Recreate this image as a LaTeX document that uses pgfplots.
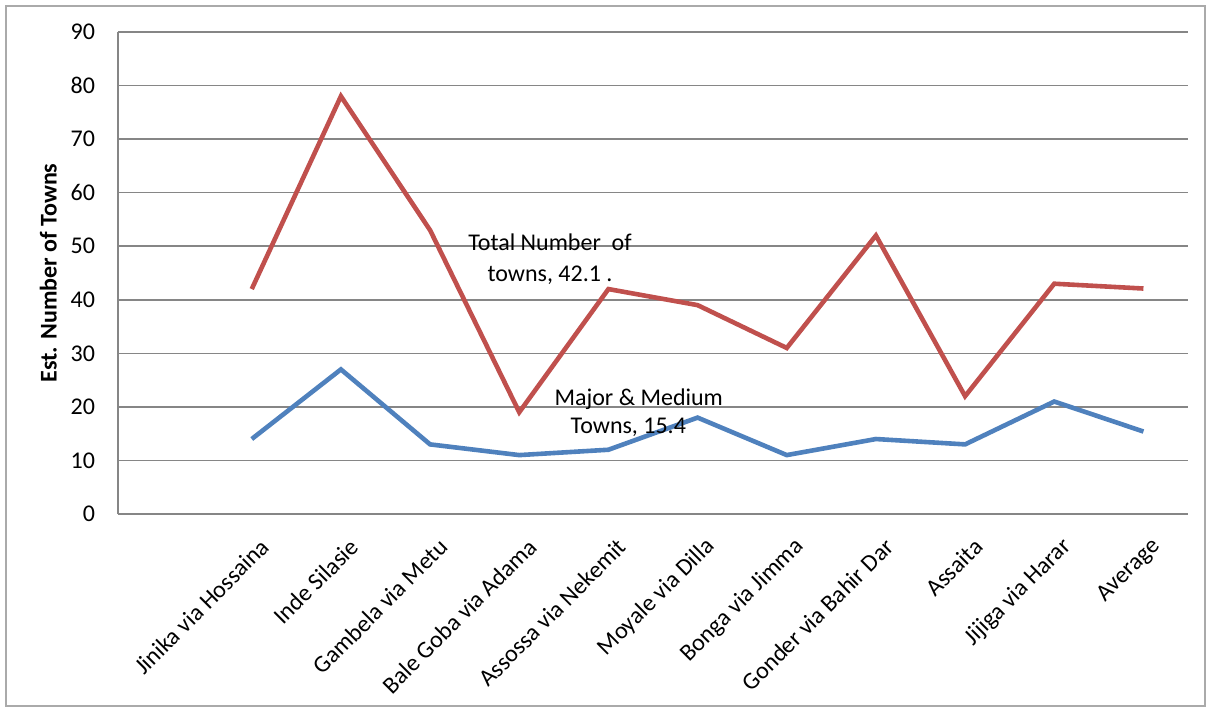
\documentclass[border=0pt]{standalone}
\usepackage{fontspec}
\setmainfont{Carlito}
\usepackage{pgfplots}
\pgfplotsset{compat=1.18}

\definecolor{xlred}{RGB}{192,80,77}
\definecolor{xlblue}{RGB}{79,129,189}
\definecolor{gridgray}{RGB}{134,134,134}
\definecolor{framegray}{RGB}{170,170,170}

\begin{document}
\begin{tikzpicture}
  \useasboundingbox (0,0) rectangle (604.5pt,354pt);
  \draw[framegray, line width=0.8pt] (3pt,1pt) rectangle (602.5pt,351pt);
  \begin{axis}[
    at={(59pt,97pt)}, anchor=south west,
    scale only axis,
    width=535pt, height=241pt,
    xmin=-1.5, xmax=10.5,
    ymin=0, ymax=90,
    ytick={0,10,...,90},
    xtick={0,...,10},
    xticklabels={Jinika via Hossaina, Inde Silasie, Gambela via Metu,
      Bale Goba via Adama, Assossa via Nekemit, Moyale via Dilla,
      Bonga via Jimma, Gonder via Bahir Dar, Assaita, Jijiga via Harar, Average},
    xticklabel style={rotate=45, anchor=east, yshift=-15pt, xshift=-2pt},
    yticklabel style={xshift=-8pt},
    /pgf/number format/assume math mode=true,
    tick style={draw=none},
    ymajorgrids,
    grid style={gridgray, line width=0.8pt},
    axis x line*=bottom, axis y line*=left,
    axis line style={gridgray, line width=0.8pt, -},
    ylabel={\bfseries Est. Number of Towns},
    ylabel style={yshift=0pt},
    font=\fontsize{12}{14}\selectfont,
  ]
    \addplot[xlred, line width=2.3pt] coordinates {
      (0,42) (1,78) (2,53) (3,19) (4,42) (5,39) (6,31) (7,52) (8,22) (9,43) (10,42.1)
    };
    \addplot[xlblue, line width=2.3pt] coordinates {
      (0,14) (1,27) (2,13) (3,11) (4,12) (5,18) (6,11) (7,14) (8,13) (9,21) (10,15.4)
    };
    \node[align=center, font=\fontsize{12}{15.5}\selectfont] at (axis cs:3.345,47.5)
      {Total Number\ \ of\\ towns, 42.1 .};
    \node[align=center, font=\fontsize{12}{14}\selectfont] at (axis cs:4.34,19.0)
      {Major \& Medium\\ Towns, 15.4\phantom{xx}};
  \end{axis}
\end{tikzpicture}
\end{document}
